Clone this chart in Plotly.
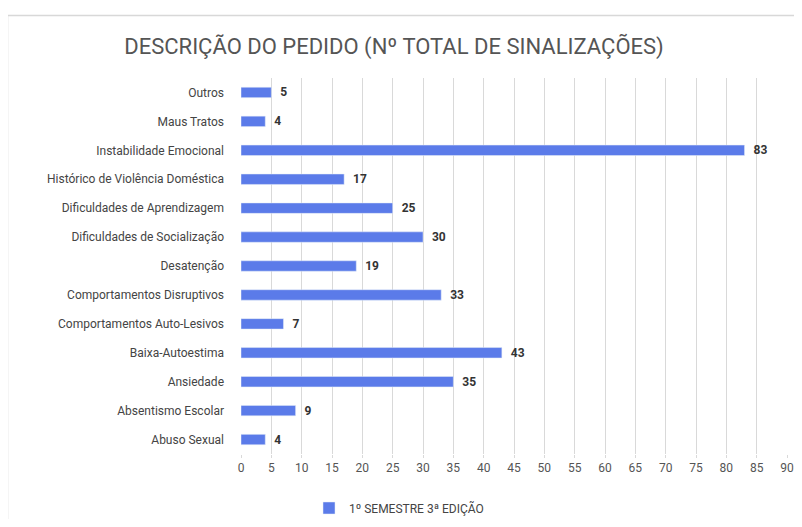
import plotly.graph_objects as go

categories = [
    "Outros", "Maus Tratos", "Instabilidade Emocional",
    "Histórico de Violência Doméstica", "Dificuldades de Aprendizagem",
    "Dificuldades de Socialização", "Desatenção", "Comportamentos Disruptivos",
    "Comportamentos Auto-Lesivos", "Baixa-Autoestima", "Ansiedade",
    "Absentismo Escolar", "Abuso Sexual",
]
values = [5, 4, 83, 17, 25, 30, 19, 33, 7, 43, 35, 9, 4]
series_name = "1º SEMESTRE 3ª EDIÇÃO"
title = "DESCRIÇÃO DO PEDIDO (Nº TOTAL DE SINALIZAÇÕES)"
x_ticks = list(range(0, 95, 5))

FONT = "Roboto, Arial"

fig = go.Figure()
fig.add_trace(go.Bar(
    x=values, y=categories, orientation="h", name=series_name,
    marker=dict(color="#5b7be9"),
    text=values, texttemplate="  <b>%{text}</b>", textposition="outside",
    constraintext="none",
    textfont=dict(family=FONT, size=12, color="#333333"),
    cliponaxis=False,
))

# page has an 8px body margin; the figure is sized to fit the window
OFF = 8
W, H = 802 - 2 * OFF, 527 - 2 * OFF
l, t = 241 - OFF, 78 - OFF
r = W - (787 - OFF)
b = H - (454 - OFF)
pw, ph = W - l - r, H - t - b

def px(x):
    return (x - OFF - l) / pw

def py(y):
    return 1 - (y - OFF - t) / ph

fig.update_layout(
    width=W, height=H,
    margin=dict(l=l, r=r, t=t, b=b, autoexpand=False),
    paper_bgcolor="white", plot_bgcolor="white",
    font=dict(family=FONT, size=12, color="#444444"),
    title=dict(text=title, x=px(394), xref="paper", xanchor="center",
               y=1 - (46 - OFF) / H, yanchor="middle",
               font=dict(family=FONT, size=22, color="#555555")),
    bargap=0.64,
    showlegend=True,
    legend=dict(orientation="h", x=px(309), xanchor="left", y=py(508), yanchor="middle",
                font=dict(family=FONT, size=12, color="#444444"),
                itemwidth=30),
    xaxis=dict(range=[0, 90], tickvals=x_ticks, showgrid=True, gridcolor="#d9d9d9",
               gridwidth=1, zeroline=False, showline=False, automargin=False,
               ticks="outside", ticklen=3, tickcolor="#d9d9d9",
               tickfont=dict(family=FONT, size=12, color="#555555")),
    yaxis=dict(autorange="reversed", showgrid=False, showline=False, automargin=False,
               ticklabelstandoff=16,
               tickfont=dict(family=FONT, size=12, color="#444444")),
    shapes=[dict(type="rect", xref="paper", yref="paper",
                 x0=px(7.5), x1=px(805), y0=py(540), y1=py(15.5),
                 line=dict(color="#d8d8d8", width=1.5), fillcolor="rgba(0,0,0,0)",
                 layer="below")],
)

fig.write_html("out.html")
